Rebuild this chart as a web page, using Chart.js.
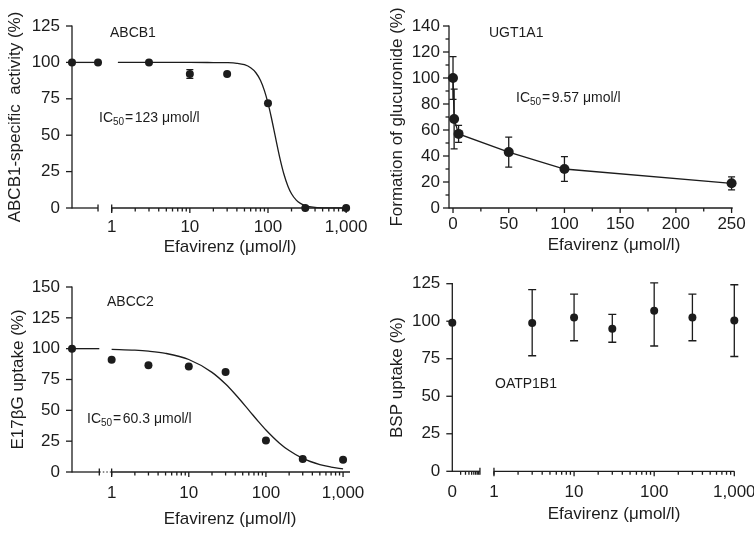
<!DOCTYPE html>
<html><head><meta charset="utf-8">
<script src="https://cdn.jsdelivr.net/npm/chart.js@4.4.1/dist/chart.umd.min.js"></script>
<style>
html,body{margin:0;padding:0;background:#fff;}
#wrap{position:relative;width:754px;height:534px;overflow:hidden;background:#fff;}
canvas{position:absolute;}
</style></head><body>
<div id="wrap">
<canvas id="c1" width="377" height="267" style="left:0;top:0"></canvas>
<canvas id="c2" width="377" height="267" style="left:377px;top:0"></canvas>
<canvas id="c3" width="377" height="267" style="left:0;top:267px"></canvas>
<canvas id="c4" width="377" height="267" style="left:377px;top:267px"></canvas>
</div>
<script>
// ================= DATA =================
// Panel A: ABCB1
const abcb1Conc = [3, 10, 30, 100, 300, 1000];
const abcb1Activity = [100, 92, 92, 72, 0, 0];
const abcb1Sd = [0, 3, 0, 0, 0, 0];
const abcb1Control = [100, 100];
const abcb1FitConc = [1.2, 5, 10, 20, 30, 40, 50, 60, 70, 80, 90, 100, 110, 123, 140, 160, 180, 200, 230, 260, 300, 400, 600, 1000];
const abcb1FitValue = [100, 100, 100, 99.9, 99.8, 99.4, 98.4, 96.3, 92.9, 87.7, 80.6, 72, 62.5, 50, 35.7, 23.2, 15, 9.8, 5.4, 3.2, 1.7, 0.5, 0.1, 0];
const abcb1YTicks = [0, 25, 50, 75, 100, 125];
const logTickConc = [1, 10, 100, 1000];
const logTickLabels = ['1', '10', '100', '1,000'];

// Panel B: UGT1A1
const ugtConc = [0, 1, 5, 50, 100, 250];
const ugtFormation = [100, 68.5, 57, 43, 30, 19];
const ugtSd = [16.5, 23, 6.5, 11.5, 9.5, 5];
const ugtXTicks = [0, 50, 100, 150, 200, 250];
const ugtXLabels = ['0', '50', '100', '150', '200', '250'];
const ugtXMinor = [25, 75, 125, 175, 225];
const ugtYTicks = [0, 20, 40, 60, 80, 100, 120, 140];
const ugtYMinor = [10, 30, 50, 70, 90, 110, 130];

// Panel C: ABCC2
const abcc2Conc = [1, 3, 10, 30, 100, 300, 1000];
const abcc2Uptake = [91, 86.5, 85.5, 81, 25.5, 10.5, 10];
const abcc2Control = [100];
const abcc2FitConc = [1, 2, 3, 5, 10, 20, 30, 40, 60.3, 80, 100, 150, 200, 300, 500, 700, 1000];
const abcc2FitValue = [99.5, 98.8, 98, 96.2, 91.2, 80.8, 71.3, 63, 50, 40.9, 34.1, 23.4, 17.4, 11, 6, 4, 2.5];
const abcc2YTicks = [0, 25, 50, 75, 100, 125, 150];

// Panel D: OATP1B1
const oatpConc = [3, 10, 30, 100, 300, 1000];
const oatpUptake = [98.8, 102.5, 95, 107, 102.5, 100.5];
const oatpUpper = [121, 118, 104.5, 125.5, 118, 124.3];
const oatpLower = [77, 87, 86, 83.5, 87, 76.5];
const oatpControl = [99];
const oatpXLabels = ['0', '1', '10', '100', '1,000'];
const oatpYTicks = [0, 25, 50, 75, 100, 125];

const xTitle = 'Efavirenz (\u03bcmol/l)';

// ================= RENDERING =================
const FONT = "'Liberation Sans', Arial, Helvetica, sans-serif";
const INK = '#1c1c1c';
const W = 377, H = 267;
const lg = v => Math.log10(v);
const decadeMinors = [];
for (let d = 0; d < 3; d++) for (let k = 2; k <= 9; k++) decadeMinors.push(d + Math.log10(k));

const axisPlugin = {
  id: 'axisDraw',
  beforeDatasetsDraw(chart, args, o) {
    const ctx = chart.ctx, xs = chart.scales.x, ys = chart.scales.y, a = chart.chartArea;
    const y0 = a.bottom, x0 = a.left;
    const px = v => xs.getPixelForValue(v);
    const py = v => ys.getPixelForValue(v);
    ctx.save();
    ctx.strokeStyle = INK; ctx.lineWidth = 1.3; ctx.lineCap = 'butt';
    const seg = (x1, y1, x2, y2) => { ctx.beginPath(); ctx.moveTo(x1, y1); ctx.lineTo(x2, y2); ctx.stroke(); };
    seg(x0, a.top - 0.6, x0, y0 + 0.6);
    (o.yMajor || []).forEach(v => seg(x0 - 6, py(v), x0, py(v)));
    (o.yMinor || []).forEach(v => seg(x0 - 3.5, py(v), x0, py(v)));
    (o.segments || []).forEach(([s, e]) => seg(px(s), y0, px(e), y0));
    if (o.dotted) {
      ctx.save(); ctx.setLineDash([1.5, 2]); ctx.lineWidth = 1;
      o.dotted.forEach(([s, e]) => seg(px(s), y0, px(e), y0));
      ctx.restore();
    }
    (o.endTicks || []).forEach(v => seg(px(v), y0 - 3.5, px(v), y0 + 3.5));
    (o.xMajor || []).forEach(v => seg(px(v), y0, px(v), y0 + 5));
    (o.xMinor || []).forEach(v => seg(px(v), y0, px(v), y0 + 3.5));
    ctx.restore();
  }
};

const errPlugin = {
  id: 'errBars',
  beforeDatasetsDraw(chart, args, o) {
    const ctx = chart.ctx, xs = chart.scales.x, ys = chart.scales.y;
    ctx.save(); ctx.strokeStyle = INK; ctx.lineWidth = 1.3;
    (o.sets || []).forEach(s => {
      s.x.forEach((xv, i) => {
        const lo = s.lo[i], hi = s.hi[i];
        if (hi - lo <= 0) return;
        const X = xs.getPixelForValue(xv), Y1 = ys.getPixelForValue(lo), Y2 = ys.getPixelForValue(hi);
        ctx.beginPath();
        ctx.moveTo(X, Y1); ctx.lineTo(X, Y2);
        ctx.moveTo(X - s.cap, Y1); ctx.lineTo(X + s.cap, Y1);
        ctx.moveTo(X - s.cap, Y2); ctx.lineTo(X + s.cap, Y2);
        ctx.stroke();
      });
    });
    ctx.restore();
  }
};

const notePlugin = {
  id: 'notes',
  afterDraw(chart, args, o) {
    const ctx = chart.ctx;
    ctx.save(); ctx.fillStyle = INK; ctx.textBaseline = 'middle'; ctx.textAlign = 'left';
    if (o.xTitle) {
      ctx.font = `17px ${FONT}`; ctx.textAlign = 'center';
      ctx.fillText(o.xTitle.text, o.xTitle.x, o.xTitle.y);
      ctx.textAlign = 'left';
    }
    (o.items || []).forEach(it => {
      let x = it.x;
      const y = it.y;
      if (it.ic) {
        ctx.font = `14px ${FONT}`; ctx.fillText('IC', x, y); x += ctx.measureText('IC').width;
        ctx.font = `10px ${FONT}`; ctx.fillText('50', x, y + 4); x += ctx.measureText('50').width + 1;
        ctx.font = `14px ${FONT}`; ctx.fillText('=', x, y); x += ctx.measureText('=').width + 1.5;
        ctx.fillText(it.ic + ' \u03bcmol/l', x, y);
      } else {
        ctx.font = `14px ${FONT}`; ctx.fillText(it.text, x, y);
      }
    });
    ctx.restore();
  }
};

function pts(xs, ys) { return xs.map((x, i) => ({ x, y: ys[i] })); }
function dotSet(data, r) {
  return { data, showLine: false, pointRadius: r, pointHoverRadius: r, pointBackgroundColor: INK, pointBorderColor: INK, pointBorderWidth: 0, clip: false };
}
function lineSet(data, smooth) {
  return { data, pointRadius: 0, borderColor: INK, borderWidth: 1.3, fill: false, clip: false,
           cubicInterpolationMode: smooth ? 'monotone' : 'default', tension: 0 };
}

function makeChart(id, p) {
  return new Chart(document.getElementById(id), {
    type: 'line',
    data: { datasets: p.datasets },
    options: {
      responsive: false, animation: false, devicePixelRatio: 1,
      events: [],
      layout: { padding: { left: 0, top: p.area.t, right: W - p.area.r, bottom: 0 } },
      plugins: { legend: { display: false }, tooltip: { enabled: false },
                 axisDraw: p.axis, errBars: p.err || {}, notes: p.notes },
      scales: {
        x: {
          type: 'linear', min: p.x.min, max: p.x.max,
          grid: { display: false, drawTicks: false }, border: { display: false },
          afterBuildTicks: s => { s.ticks = p.x.ticks.map(v => ({ value: v })); },
          afterFit: s => { s.height = H - p.area.b; s.paddingLeft = 0; s.paddingRight = 0; },
          ticks: { autoSkip: false, maxRotation: 0, minRotation: 0, padding: p.x.pad, color: INK,
                   font: { family: FONT, size: 17 }, callback: (v, i) => p.x.labels[i] },
          title: { display: false }
        },
        y: {
          type: 'linear', min: p.y.min, max: p.y.max,
          grid: { display: false, drawTicks: false }, border: { display: false },
          afterBuildTicks: s => { s.ticks = p.y.ticks.map(v => ({ value: v })); },
          afterFit: s => { s.width = p.area.l; s.paddingTop = 0; s.paddingBottom = 0; },
          ticks: { padding: p.y.pad, color: INK, font: { family: FONT, size: 17 }, callback: v => String(v) },
          title: { display: true, text: p.y.title, color: INK,
                   font: { family: FONT, size: 17 }, padding: { top: p.y.titlePad, bottom: 0 } }
        }
      }
    },
    plugins: [axisPlugin, errPlugin, notePlugin]
  });
}

// ---- Panel A ----
const aCtl = [-0.508, -0.175];
makeChart('c1', {
  area: { l: 72, t: 26, r: 347.7, b: 208 },
  x: { min: -0.508, max: 3.02, ticks: logTickConc.map(lg), labels: logTickLabels, pad: 9.3 },
  y: { min: 0, max: 125, ticks: abcb1YTicks, pad: 12, titlePad: 5, title: 'ABCB1-specific  activity (%)' },
  axis: { segments: [[-0.508, -0.175], [0, 3.02]], endTicks: [-0.175, 0], xMajor: logTickConc.map(lg), xMinor: decadeMinors, yMajor: abcb1YTicks },
  err: { sets: [{ x: abcb1Conc.map(lg), lo: abcb1Activity.map((v, i) => v - abcb1Sd[i]), hi: abcb1Activity.map((v, i) => v + abcb1Sd[i]), cap: 3.5 }] },
  notes: { xTitle: { text: xTitle, x: 230, y: 247 }, items: [{ text: 'ABCB1', x: 110, y: 33 }, { ic: '123', x: 99, y: 118 }] },
  datasets: [
    dotSet(pts(abcb1Conc.map(lg), abcb1Activity), 4),
    dotSet(pts(aCtl, abcb1Control), 4),
    lineSet(pts(aCtl, abcb1Control), false),
    lineSet(pts(abcb1FitConc.map(lg), abcb1FitValue), true)
  ]
});

// ---- Panel B ----
makeChart('c2', {
  area: { l: 72, t: 26, r: 355.7, b: 208 },
  x: { min: -3.6, max: 251, ticks: ugtXTicks, labels: ugtXLabels, pad: 5.8 },
  y: { min: 0, max: 140, ticks: ugtYTicks, pad: 9, titlePad: 10, title: 'Formation of glucuronide (%)' },
  axis: { segments: [[-3.6, 251]], xMajor: ugtXTicks, xMinor: ugtXMinor, yMajor: ugtYTicks, yMinor: ugtYMinor },
  err: { sets: [{ x: ugtConc, lo: ugtFormation.map((v, i) => v - ugtSd[i]), hi: ugtFormation.map((v, i) => v + ugtSd[i]), cap: 3.5 }] },
  notes: { xTitle: { text: xTitle, x: 237, y: 245 }, items: [{ text: 'UGT1A1', x: 112, y: 33 }, { ic: '9.57', x: 139, y: 98 }] },
  datasets: [
    dotSet(pts(ugtConc, ugtFormation), 5),
    lineSet(pts(ugtConc, ugtFormation), false)
  ]
});

// ---- Panel C ----
const cCtl = [-0.514, -0.16];
makeChart('c3', {
  area: { l: 72, t: 20, r: 350, b: 205 },
  x: { min: -0.514, max: 3.09, ticks: logTickConc.map(lg), labels: logTickLabels, pad: 11.3 },
  y: { min: 0, max: 150, ticks: abcc2YTicks, pad: 12, titlePad: 8, title: 'E17\u03b2G uptake (%)' },
  axis: { segments: [[-0.514, -0.16], [0, 3.09]], dotted: [[-0.16, 0]], endTicks: [-0.16, 0], xMajor: logTickConc.map(lg), xMinor: decadeMinors, yMajor: abcc2YTicks },
  notes: { xTitle: { text: xTitle, x: 230, y: 252 }, items: [{ text: 'ABCC2', x: 107, y: 35 }, { ic: '60.3', x: 87, y: 152 }] },
  datasets: [
    dotSet(pts(abcc2Conc.map(lg), abcc2Uptake), 4),
    dotSet(pts([cCtl[0]], abcc2Control), 4),
    lineSet(pts(cCtl, [abcc2Control[0], abcc2Control[0]]), false),
    lineSet(pts(abcc2FitConc.map(lg), abcc2FitValue), true)
  ]
});

// ---- Panel D ----
const dMin = -0.52;
const dMini = [2, 3, 4, 5, 6, 7, 8, 9].map(k => dMin + 0.345 * Math.log10(k));
makeChart('c4', {
  area: { l: 75.3, t: 16.7, r: 357.3, b: 204.3 },
  x: { min: dMin, max: 3.0, ticks: [dMin].concat(logTickConc.map(lg)), labels: oatpXLabels, pad: 10.5 },
  y: { min: 0, max: 125, ticks: oatpYTicks, pad: 12, titlePad: 10, title: 'BSP uptake (%)' },
  axis: { segments: [[dMin, -0.175], [0, 3.0]], endTicks: [-0.175, 0], xMajor: logTickConc.map(lg), xMinor: decadeMinors.concat(dMini), yMajor: oatpYTicks },
  err: { sets: [{ x: oatpConc.map(lg), lo: oatpLower, hi: oatpUpper, cap: 4 }] },
  notes: { xTitle: { text: xTitle, x: 237, y: 247 }, items: [{ text: 'OATP1B1', x: 118, y: 117 }] },
  datasets: [
    dotSet(pts(oatpConc.map(lg), oatpUptake), 4),
    dotSet(pts([dMin], oatpControl), 4)
  ]
});
</script>
</body></html>
